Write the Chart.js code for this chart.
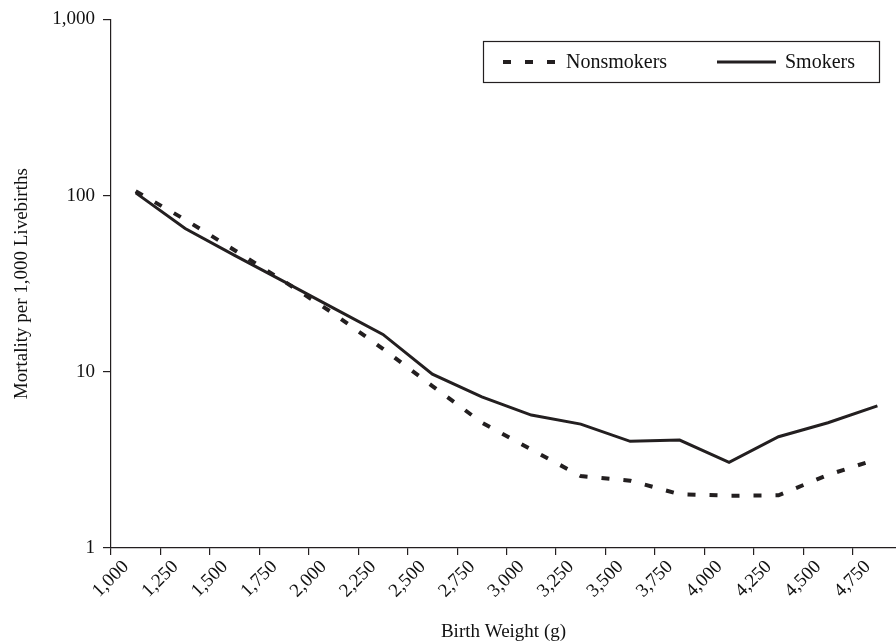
<!DOCTYPE html>
<html>
<head>
<meta charset="utf-8">
<script src="https://cdn.jsdelivr.net/npm/chart.js@4/dist/chart.umd.min.js"></script>
<style>
  html, body { margin:0; padding:0; background:#fff; }
  #wrap { width:896px; height:644px; position:relative; }
</style>
</head>
<body>
<div id="wrap"><canvas id="chart"></canvas></div>
<script>
// birth weight bins (midpoints, g)
const weights = [1125,1375,1625,1875,2125,2375,2625,2875,3125,3375,3625,3875,4125,4375,4625,4875];
const nonsmokers = [106,73,49,32.6,21.4,13.5,8.3,5.15,3.62,2.56,2.41,2.02,1.98,1.99,2.6,3.2];
const smokers = [103.6,65,45.8,32.5,23.0,16.3,9.7,7.2,5.68,5.05,4.03,4.10,3.06,4.28,5.14,6.41];
const xTicks = [1000,1250,1500,1750,2000,2250,2500,2750,3000,3250,3500,3750,4000,4250,4500,4750];
const yTicks = [1,10,100,1000];

const INK = "#231f20";
const FONT = "'Liberation Serif', 'Times New Roman', serif";

// boxed legend drawn inside the plot
const boxLegend = {
  id: "boxLegend",
  afterDraw(chart){
    const c = chart.ctx;
    const ds = chart.data.datasets;
    c.save();
    c.strokeStyle = INK; c.lineWidth = 1.2;
    c.strokeRect(483.5, 41.5, 396, 41);
    const items = [{x0:503, x1:557, tx:566}, {x0:717, x1:776, tx:785}];
    c.font = "20px " + FONT;
    c.fillStyle = "#111";
    c.textBaseline = "middle";
    ds.forEach((d, i) => {
      const it = items[i];
      c.beginPath();
      c.lineWidth = d.borderWidth;
      c.strokeStyle = d.borderColor;
      c.setLineDash(d.borderDash || []);
      c.moveTo(it.x0, 62); c.lineTo(it.x1, 62);
      c.stroke();
      c.setLineDash([]);
      c.fillText(d.label, it.tx, 63);
    });
    c.restore();
  }
};

const tickFont = { family: FONT, size: 19 };

new Chart(document.getElementById("chart"), {
  type: "line",
  data: {
    datasets: [
      { label: "Nonsmokers", data: weights.map((w,i)=>({x:w, y:nonsmokers[i]})),
        borderColor: INK, borderWidth: 4, borderDash: [8,14], pointRadius: 0, tension: 0 },
      { label: "Smokers", data: weights.map((w,i)=>({x:w, y:smokers[i]})),
        borderColor: INK, borderWidth: 3, pointRadius: 0, tension: 0 }
    ]
  },
  options: {
    responsive: true,
    maintainAspectRatio: false,
    animation: false,
    layout: { padding: { top: 19, right: 0, left: 0, bottom: 0 } },
    plugins: { legend: { display: false }, tooltip: { enabled: false } },
    scales: {
      x: {
        type: "linear", min: 1000, max: 4969,
        afterBuildTicks: s => { s.ticks = xTicks.map(v => ({ value: v })); },
        afterFit: s => { s.height = 96; },
        border: { color: INK, width: 1.2 },
        grid: { drawOnChartArea: false, color: INK, tickLength: 7, lineWidth: 1.2 },
        ticks: { color: "#111", font: tickFont, minRotation: 45, maxRotation: 45, padding: 1,
                 labelOffset: 15, callback: v => v.toLocaleString("en-US") },
        title: { display: true, text: "Birth Weight (g)", color: "#111",
                 font: { family: FONT, size: 19 }, padding: { top: 0, bottom: 1 } }
      },
      y: {
        type: "logarithmic", min: 1, max: 1000,
        afterBuildTicks: s => { s.ticks = yTicks.map(v => ({ value: v })); },
        afterFit: s => { s.width = 111; },
        border: { color: INK, width: 1.2 },
        grid: { drawOnChartArea: false, color: INK, tickLength: 8, lineWidth: 1.2 },
        ticks: { color: "#111", font: tickFont, padding: 8,
                 callback: v => Number(v).toLocaleString("en-US") },
        title: { display: true, text: "Mortality per 1,000 Livebirths", color: "#111",
                 font: { family: FONT, size: 19 }, padding: { top: 11, bottom: 0 } }
      }
    }
  },
  plugins: [boxLegend]
});
</script>
</body>
</html>
